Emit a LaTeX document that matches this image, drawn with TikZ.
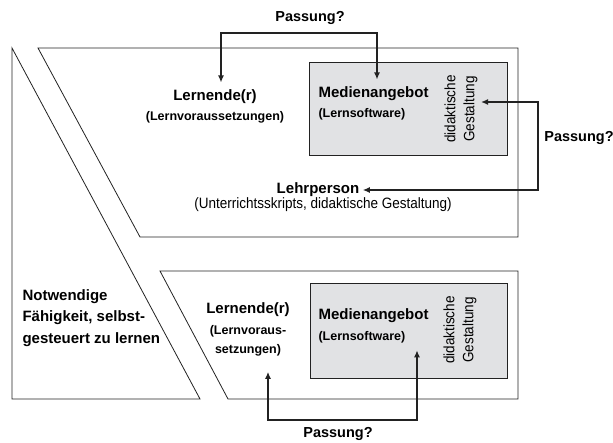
\documentclass[tikz,border=0pt]{standalone}
\usepackage{fontspec}
\setmainfont{Liberation Sans}
\newfontfamily\schmalfont[FakeStretch=0.9]{Liberation Sans}
\usetikzlibrary{arrows.meta}
\definecolor{kastengrau}{HTML}{E1E2E4}
\definecolor{linie}{HTML}{222222}
\tikzset{
  rahmen/.style={draw=linie, line width=0.8pt},
  kasten/.style={draw=linie, fill=kastengrau, line width=0.8pt},
  titel/.style={font=\fontsize{15}{21.5}\selectfont\bfseries},
  klammer/.style={font=\fontsize{12.5}{19}\selectfont\bfseries},
  schmal/.style={font=\fontsize{15}{19}\schmalfont},
  passung/.style={font=\fontsize{14.5}{17}\selectfont\bfseries},
  doppelpfeil/.style={draw=linie, line width=1.3pt, {Latex[length=7pt,width=6pt]}-{Latex[length=7pt,width=6pt]}}
}
\begin{document}
\begin{tikzpicture}[x=1pt,y=-1pt]
\useasboundingbox (0,0) rectangle (613,443);

\draw[rahmen] (12,48) -- (12,399) -- (200,399) -- cycle;
\draw[rahmen] (38,48) -- (518,48) -- (518,237) -- (140,237) -- cycle;
\draw[rahmen] (160,271) -- (518,271) -- (518,399) -- (228,399) -- cycle;
\draw[kasten] (309,62) rectangle (507,155);
\draw[kasten] (310,283) rectangle (507,378);

\node[titel, anchor=west, align=left] (notw) at (19,318) {Notwendige\\F\"ahigkeit, selbst-\\gesteuert zu lernen};

\node[titel] (ler1) at (215,97) {Lernende(r)};
\node[klammer] (voraus1) at (215,117) {(Lernvoraussetzungen)};
\node[titel, anchor=west] (med1) at (315,94) {Medienangebot};
\node[klammer, anchor=west] (soft1) at (315,114) {(Lernsoftware)};
\node[schmal, rotate=90, align=center] (did1) at (461,109) {didaktische\\Gestaltung};
\node[titel] (lehr) at (318,190) {Lehrperson};
\node[schmal] (unter) at (323,205) {(Unterrichtsskripts, didaktische Gestaltung)};

\node[titel] (ler2) at (248,310) {Lernende(r)};
\node[klammer, align=center] (voraus2) at (248,341) {(Lernvoraus-\\setzungen)};
\node[titel, anchor=west] (med2) at (315,316) {Medienangebot};
\node[klammer, anchor=west] (soft2) at (315,337) {(Lernsoftware)};
\node[schmal, rotate=90, align=center] (did2) at (460,330) {didaktische\\Gestaltung};

\node[passung] (pas1) at (310,18) {Passung?};
\node[passung] (pas2) at (579,138) {Passung?};
\node[passung] (pas3) at (338,434) {Passung?};

\coordinate (o1) at (221,33);
\coordinate (o2) at (377,33);
\coordinate (r1) at (538,102);
\coordinate (r2) at (538,190);
\coordinate (u1) at (268,420);
\coordinate (u2) at (417,420);

\draw[doppelpfeil] ([yshift=4pt]ler1.north -| o1) -- (o1) -- (o2) -- ([yshift=4pt]med1.north -| o2);
\draw[doppelpfeil] (did1.south |- r1) -- (r1) -- (r2) -- (lehr.east);
\draw[doppelpfeil] ([yshift=-12pt]voraus2.south -| u1) -- (u1) -- (u2) -- ([yshift=-4pt]soft2.south -| u2);
\end{tikzpicture}
\end{document}
